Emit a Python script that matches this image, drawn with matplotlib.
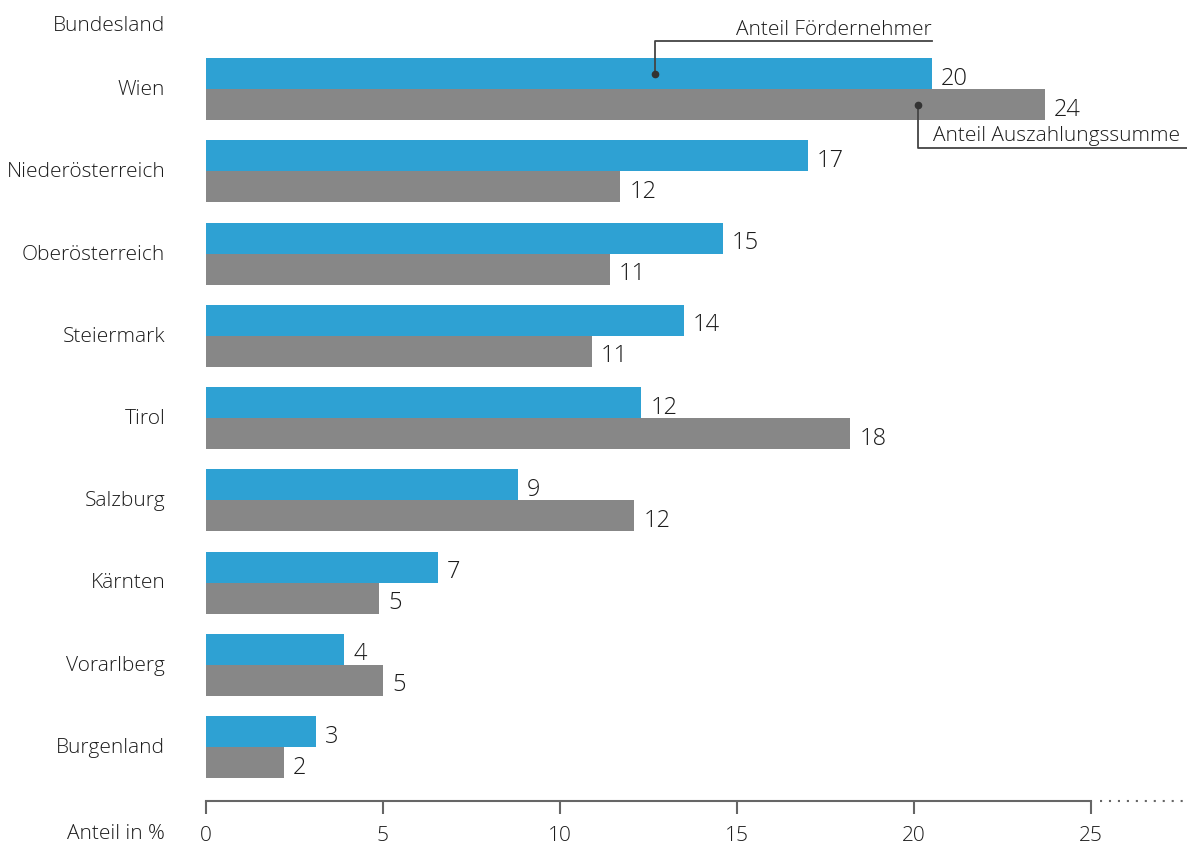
import numpy as np
import matplotlib.pyplot as plt
from matplotlib.lines import Line2D

plt.rcParams['font.family'] = ['Open Sans', 'DejaVu Sans']
plt.rcParams['font.weight'] = 'light'

# data
laender = ['Wien', 'Niederösterreich', 'Oberösterreich', 'Steiermark', 'Tirol',
           'Salzburg', 'Kärnten', 'Vorarlberg', 'Burgenland']
foerdernehmer = [20.5, 17.0, 14.6, 13.5, 12.3, 8.8, 6.55, 3.9, 3.1]
auszahlung = [23.7, 11.7, 11.4, 10.9, 18.2, 12.1, 4.9, 5.0, 2.2]
labels_foerd = ['20', '17', '15', '14', '12', '9', '7', '4', '3']
labels_ausz = ['24', '12', '11', '11', '18', '12', '5', '5', '2']
xticks = [0, 5, 10, 15, 20, 25]

BLUE = '#2ea1d3'
GREY = '#878787'
TXT = '#1c1c1c'
AXC = '#666666'

W, H = 1187, 845
fig = plt.figure(figsize=(W / 100, H / 100), dpi=100)

# axes placed in pixels: x 0 -> 206px, 25 -> 1091px ; spine at 802px
ax = fig.add_axes([206 / W, (H - 802) / H, 885 / W, 802 / H])

step = 82.25
y_top = -90 / step
y_bot = (802 - 90) / step
bh = 31 / step

y = np.arange(len(laender))
ax.barh(y - bh / 2, foerdernehmer, height=bh, color=BLUE)
ax.barh(y + bh / 2, auszahlung, height=bh, color=GREY)

for i in range(len(laender)):
    ax.text(foerdernehmer[i] + 0.26, y[i] - bh / 2 + 0.05, labels_foerd[i],
            ha='left', va='center', fontsize=17, color=TXT)
    ax.text(auszahlung[i] + 0.26, y[i] + bh / 2 + 0.05, labels_ausz[i],
            ha='left', va='center', fontsize=17, color=TXT)
    ax.text(-1.15, y[i], laender[i], ha='right', va='center', fontsize=15, color=TXT)

ax.text(-1.15, -0.78, 'Bundesland', ha='right', va='center', fontsize=15, color=TXT)

ax.set_xlim(0, 25)
ax.set_ylim(y_bot, y_top)
ax.set_xticks(xticks)
ax.set_xticklabels([str(t) for t in xticks], fontsize=15, color=TXT)
ax.set_yticks([])
for s in ['top', 'right', 'left']:
    ax.spines[s].set_visible(False)
ax.spines['bottom'].set_color(AXC)
ax.spines['bottom'].set_linewidth(1.5)
ax.tick_params(axis='x', direction='out', length=9, width=1.5, color=AXC, pad=8)

# x axis title on the left
fig.text(165 / W, 1 - 834 / H, 'Anteil in %', ha='right', va='center', fontsize=15, color=TXT)

# dotted continuation of the axis
fig.add_artist(Line2D([1100 / W, 1187 / W], [1 - 802 / H, 1 - 802 / H],
                      color=AXC, lw=1.5, ls=(0, (1, 3.3))))

# callout: Anteil Fördernehmer
x1 = 12.68
ax.plot([x1, x1, 20.5], [-bh / 2, -0.58, -0.58], color='#444444', lw=1.3, clip_on=False)
ax.plot([x1], [-bh / 2], 'o', color='#333333', ms=4.5)
ax.text(20.5, -0.73, 'Anteil Fördernehmer', ha='right', va='center', fontsize=15, color=TXT)

# callout: Anteil Auszahlungssumme
x2 = 20.12
ax.plot([x2, x2, 27.7], [bh / 2, 0.72, 0.72], color='#444444', lw=1.3, clip_on=False)
ax.plot([x2], [bh / 2], 'o', color='#333333', ms=4.5)
ax.text(20.55, 0.56, 'Anteil Auszahlungssumme', ha='left', va='center', fontsize=15,
        color=TXT, clip_on=False)

fig.savefig('out.png', dpi=100)
